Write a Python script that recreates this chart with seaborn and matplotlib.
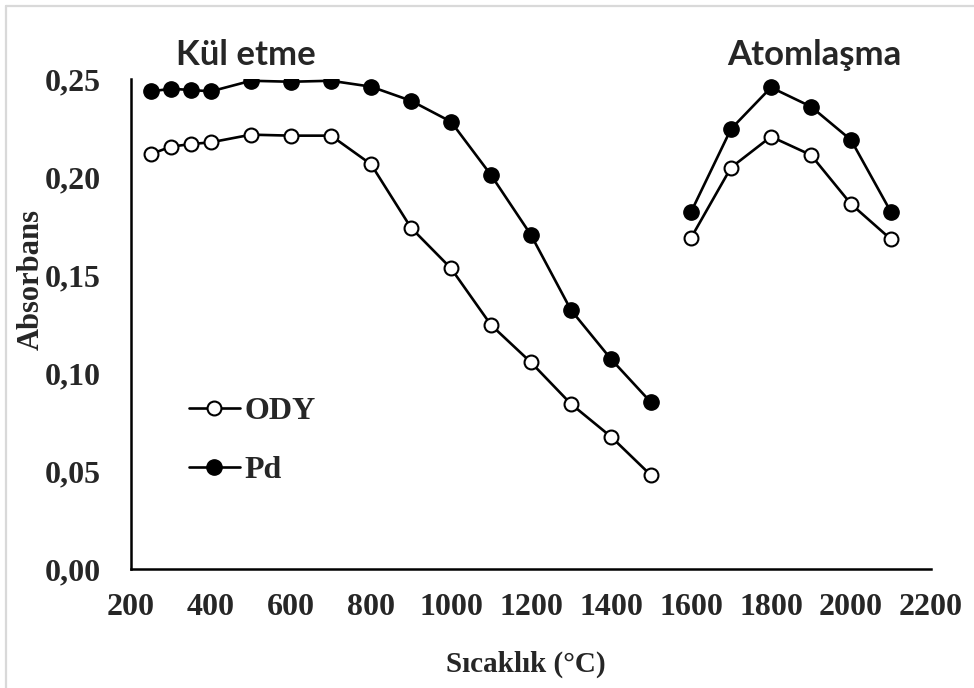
import matplotlib
matplotlib.use("Agg")
import matplotlib.pyplot as plt
from matplotlib.lines import Line2D
import seaborn as sns
import pandas as pd

# Ashing (Kül etme) and atomization (Atomlaşma) temperature programs
kul_sicaklik = [250, 300, 350, 400, 500, 600, 700, 800, 900, 1000, 1100, 1200, 1300, 1400, 1500]
kul_ody = [0.2117, 0.2155, 0.2168, 0.2177, 0.2216, 0.2211, 0.2211, 0.2065, 0.1741, 0.1534,
           0.1245, 0.1054, 0.0842, 0.0675, 0.0478]
kul_pd = [0.2437, 0.2450, 0.2444, 0.2437, 0.2491, 0.2486, 0.2491, 0.2461, 0.2389, 0.2282,
          0.2010, 0.1704, 0.1321, 0.1071, 0.0850]

atom_sicaklik = [1600, 1700, 1800, 1900, 2000, 2100]
atom_ody = [0.1689, 0.2048, 0.2206, 0.2112, 0.1862, 0.1682]
atom_pd = [0.1821, 0.2245, 0.2457, 0.2359, 0.2189, 0.1821]

x_ticks = [200, 400, 600, 800, 1000, 1200, 1400, 1600, 1800, 2000, 2200]
y_ticks = [0.00, 0.05, 0.10, 0.15, 0.20, 0.25]

rows = []
for seg, xs, ody, pd_ in [("kul", kul_sicaklik, kul_ody, kul_pd),
                          ("atom", atom_sicaklik, atom_ody, atom_pd)]:
    for x, a, b in zip(xs, ody, pd_):
        rows.append({"segment": seg, "Sicaklik": x, "seri": "ODY", "Absorbans": a})
        rows.append({"segment": seg, "Sicaklik": x, "seri": "Pd", "Absorbans": b})
df = pd.DataFrame(rows)

sns.set_style("white")
plt.rcParams["font.family"] = ["Liberation Serif", "DejaVu Serif"]

W, H = 974, 688
fig = plt.figure(figsize=(W / 100, H / 100), dpi=100)
left, right, top, bottom = 131, 931, 79, 569
ax = fig.add_axes([left / W, 1 - bottom / H, (right - left) / W, (bottom - top) / H])

styles = {
    "ODY": dict(marker="o", markerfacecolor="white", markeredgecolor="black",
                markeredgewidth=1.5, markersize=10),
    "Pd": dict(marker="o", markerfacecolor="black", markeredgecolor="black",
               markeredgewidth=1.0, markersize=11),
}

for seg in ["kul", "atom"]:
    for seri in ["ODY", "Pd"]:
        sub = df[(df.segment == seg) & (df.seri == seri)]
        sns.lineplot(data=sub, x="Sicaklik", y="Absorbans", ax=ax, color="black",
                     linewidth=1.9, legend=False, **styles[seri])

ax.set_xlim(200, 2200)
ax.set_ylim(0, 0.25)
ax.set_xticks(x_ticks)
ax.set_xticklabels([str(v) for v in x_ticks])
ax.set_yticks(y_ticks)
ax.set_yticklabels([f"{v:.2f}".replace(".", ",") for v in y_ticks])

for s in ["top", "right"]:
    ax.spines[s].set_visible(False)
for s in ["left", "bottom"]:
    ax.spines[s].set_color("black")
    ax.spines[s].set_linewidth(1.8)

ax.tick_params(axis="both", direction="in", length=7, width=1.5, color="black",
               labelsize=23)
ax.tick_params(axis="x", pad=17)
ax.tick_params(axis="y", pad=22)
for lab in ax.get_xticklabels() + ax.get_yticklabels():
    lab.set_fontweight("bold")

ax.set_xlabel("Sıcaklık (°C)", fontsize=21, fontweight="bold")
ax.set_ylabel("Absorbans", fontsize=22, fontweight="bold")
ax.xaxis.set_label_coords((526 - left) / (right - left), -(664 - bottom) / (bottom - top))
ax.yaxis.set_label_coords(-(left - 31) / (right - left), (bottom - 280) / (bottom - top))
ax.xaxis.label.set_va("center")
ax.yaxis.label.set_va("center")

handles = [Line2D([], [], color="black", linewidth=1.9, **styles["ODY"]),
           Line2D([], [], color="black", linewidth=1.9, **styles["Pd"])]
ax.legend(handles, ["ODY", "Pd"], loc="upper left", bbox_to_anchor=(0.056, 0.377),
          frameon=False, prop={"family": "Liberation Serif", "weight": "bold", "size": 23},
          handlelength=1.6, handletextpad=0.15, labelspacing=0.93, borderaxespad=0)

fig.text(246 / W, 1 - 55 / H, "Kül etme", ha="center", va="center",
         fontsize=25, fontweight="bold", family=["Lato", "DejaVu Sans"])
fig.text(814 / W, 1 - 55 / H, "Atomlaşma", ha="center", va="center",
         fontsize=25, fontweight="bold", family=["Lato", "DejaVu Sans"])

# thin grey frame along the top and left edges
fig.add_artist(Line2D([6 / W, 1], [1 - 6 / H, 1 - 6 / H], color="#d9d9d9", linewidth=1.6))
fig.add_artist(Line2D([6 / W, 6 / W], [0, 1 - 6 / H], color="#d9d9d9", linewidth=1.6))

fig.savefig("out.png", dpi=100)
